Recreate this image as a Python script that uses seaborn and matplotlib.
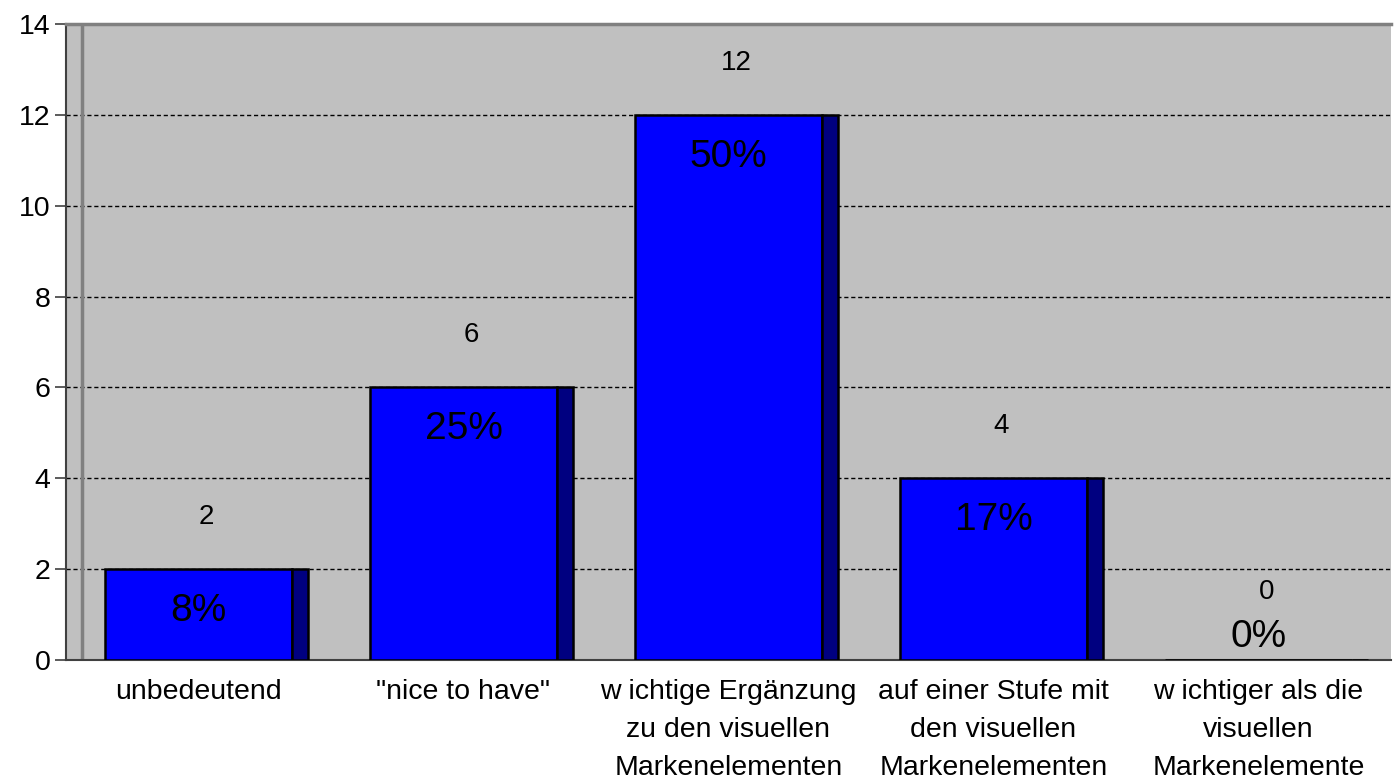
import matplotlib
matplotlib.use("Agg")
import matplotlib.pyplot as plt
import seaborn as sns
from matplotlib.patches import Rectangle

# === DATEN ===
kategorien = [
    "unbedeutend",
    "\"nice to have\"",
    "w ichtige Ergänzung\nzu den visuellen\nMarkenelementen",
    "auf einer Stufe mit\nden visuellen\nMarkenelementen",
    "w ichtiger als die\nvisuellen\nMarkenelemente",
]
anzahl = [2, 6, 12, 4, 0]
gesamt = sum(anzahl)
prozent = [f"{round(100 * a / gesamt)}%" for a in anzahl]

# === STIL ===
sns.set_style("white")
plt.rcParams["font.family"] = ["Liberation Sans", "DejaVu Sans"]
plt.rcParams["text.color"] = "black"
plt.rcParams["xtick.color"] = "black"
plt.rcParams["ytick.color"] = "black"

fig = plt.figure(figsize=(13.96, 7.83), dpi=100)
ax = fig.add_axes([66 / 1396, 123 / 783, 1325 / 1396, 636 / 783])
ax.set_facecolor("#c0c0c0")

front = 0.706   # Breite der Vorderseite
tiefe = 0.06    # 3D-Seitenfläche

sns.barplot(x=list(range(len(anzahl))), y=anzahl, color="#0000ff", saturation=1,
            width=front, edgecolor="black", linewidth=1.8, ax=ax, zorder=3)

ax.set_xlim(-0.5, len(anzahl) - 0.5)
ax.set_ylim(0, 14)

# Seitenflächen + Beschriftungen
for p, a, pr in zip(list(ax.patches), anzahl, prozent):
    x0, w, h = p.get_x(), p.get_width(), p.get_height()
    ax.add_patch(Rectangle((x0 + w, 0), tiefe, h, facecolor="#000080",
                           edgecolor="black", linewidth=1.8, zorder=3))
    y_a = a + 1.15 if a > 0 else 1.5
    ax.text(x0 + (w + tiefe) / 2, y_a, str(a), ha="center", va="center",
            fontsize=20, color="black", zorder=5)
    y_pr = a - 0.92 if a > 0 else 0.5
    ax.text(x0 + w / 2, y_pr, pr, ha="center", va="center", fontsize=28,
            color="black", zorder=5)

# Gitterlinien
for y in range(2, 14, 2):
    ax.axhline(y, color="black", lw=1, linestyle=(0, (3, 2)), zorder=1)

# linke "Wand"
ax.axvline(-0.5 + tiefe, color="#808080", lw=2.5, zorder=1)

# Achsen
ax.set_yticks(range(0, 15, 2))
ax.set_xticks(range(len(anzahl)))
ax.set_xticklabels(kategorien, fontsize=20.5, linespacing=1.6, color="black")
ax.set_xticks([i - 0.5 for i in range(len(anzahl) + 1)], minor=True)
ax.tick_params(axis="x", which="major", length=0, pad=14)
ax.tick_params(axis="x", which="minor", length=9, width=1.2, color="#404040", direction="out")
ax.tick_params(axis="y", length=8, width=1.2, color="#404040", direction="out",
               labelsize=20.5, labelcolor="black", pad=3, left=True)
ax.set_xlabel("")
ax.set_ylabel("")

ax.spines["right"].set_visible(False)
ax.spines["top"].set_color("#808080")
ax.spines["top"].set_linewidth(2.5)
ax.spines["left"].set_color("#404040")
ax.spines["left"].set_linewidth(1.5)
ax.spines["bottom"].set_color("#404040")
ax.spines["bottom"].set_linewidth(1.5)

fig.savefig("out.png", dpi=100)
